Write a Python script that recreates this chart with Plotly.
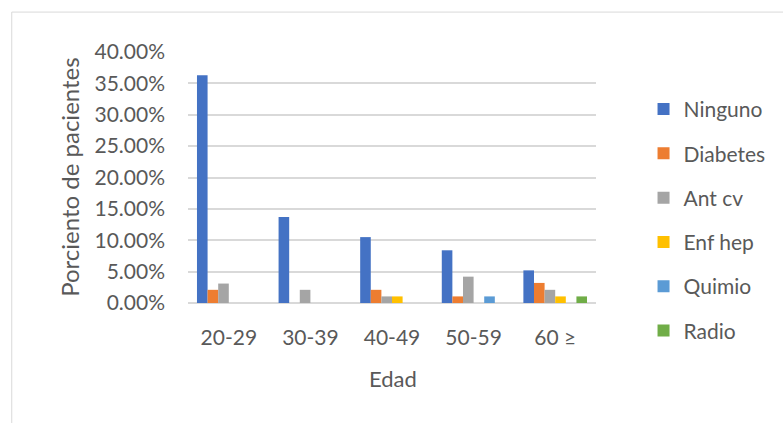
import plotly.graph_objects as go

# Age groups and share of patients per comorbidity
edades = ["20-29", "30-39", "40-49", "50-59", "60 ≥"]
ninguno = [0.363, 0.137, 0.105, 0.084, 0.052]
diabetes = [0.021, 0.0, 0.021, 0.0105, 0.032]
ant_cv = [0.031, 0.021, 0.0105, 0.042, 0.021]
enf_hep = [0.0, 0.0, 0.0105, 0.0, 0.0105]
quimio = [0.0, 0.0, 0.0, 0.0105, 0.0]
radio = [0.0, 0.0, 0.0, 0.0, 0.0105]

series = [
    ("Ninguno", ninguno, "#4472C4"),
    ("Diabetes", diabetes, "#ED7D31"),
    ("Ant cv", ant_cv, "#A5A5A5"),
    ("Enf hep", enf_hep, "#FFC000"),
    ("Quimio", quimio, "#5B9BD5"),
    ("Radio", radio, "#70AD47"),
]

FONT = "Lato, Open Sans, sans-serif"
GREY = "#595959"

fig = go.Figure()
for name, vals, color in series:
    fig.add_trace(go.Bar(
        x=edades, y=vals, name=name, legendgroup=name,
        marker=dict(color=color, line=dict(width=0)),
    ))

fig.update_layout(
    width=783, height=423,
    margin=dict(l=188, r=183, t=52, b=120),
    paper_bgcolor="white", plot_bgcolor="white",
    font=dict(family=FONT, color=GREY, size=21),
    barmode="group", bargap=0.22, bargroupgap=0.0,
    showlegend=True,
    legend=dict(
        x=1.1165, xanchor="left", y=0.853, yanchor="top",
        font=dict(size=21, color=GREY),
        tracegroupgap=14, itemwidth=30,
        bgcolor="rgba(0,0,0,0)", maxheight=400,
    ),
    xaxis=dict(
        showgrid=False, showline=False, zeroline=False,
        tickfont=dict(size=21, color=GREY),
        ticklabelstandoff=20,
    ),
    yaxis=dict(
        range=[0, 0.40], dtick=0.05, tickformat=".2%",
        showgrid=True, gridcolor="#D9D9D9", gridwidth=1.5,
        zeroline=True, zerolinecolor="#D9D9D9", zerolinewidth=1.5,
        showline=False,
        tickfont=dict(size=21, color=GREY),
        ticklabelstandoff=22,
    ),
    annotations=[
        dict(text="Porciento de pacientes", textangle=-90,
             xref="paper", yref="paper", x=-0.291, y=0.5,
             xanchor="center", yanchor="middle", showarrow=False,
             font=dict(size=24, color=GREY)),
        dict(text="Edad", xref="paper", yref="paper", x=0.502, y=-0.299,
             xanchor="center", yanchor="middle", showarrow=False,
             font=dict(size=22, color=GREY)),
    ],
    shapes=[
        dict(type="rect", xref="paper", yref="paper",
             x0=-0.432, x1=1.5, y0=-0.6, y1=1.159,
             line=dict(color="#D9D9D9", width=1), layer="below"),
    ],
)

fig.write_html("out.html")
